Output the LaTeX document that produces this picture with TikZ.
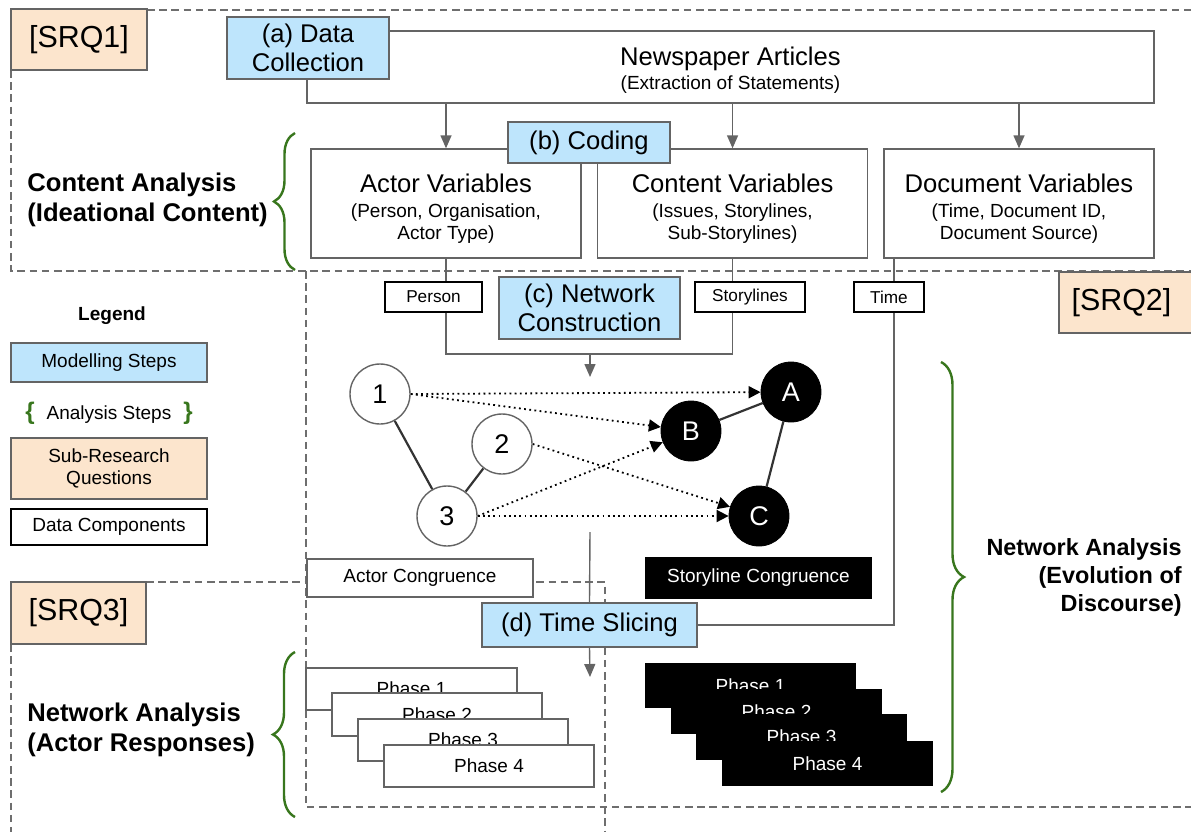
\documentclass[tikz,border=0pt]{standalone}
\usepackage{fontspec}
\setmainfont{Liberation Sans}
\usetikzlibrary{arrows.meta,decorations.pathreplacing}
\definecolor{stepblue}{RGB}{190,229,252}
\definecolor{srqorange}{RGB}{252,229,205}
\definecolor{edgegray}{RGB}{100,100,100}
\definecolor{bracegreen}{RGB}{56,118,29}
\definecolor{dashgray}{RGB}{110,110,110}
\pgfdeclarelayer{background}
\pgfsetlayers{background,main}
\newcommand{\tfont}{\fontsize{12.8}{14.5}\selectfont}
\newcommand{\sfont}{\fontsize{9.5}{11}\selectfont}
% box from pixel corner (x1,y1) to (x2,y2)
\newcommand{\rbox}[6]{\node[#1,minimum width={(#4-#2)*0.5pt},minimum height={(#5-#3)*0.5pt}] (#6) at ({(#2+#4)/2},{(#3+#5)/2})}
\tikzset{
 box/.style={draw=edgegray, line width=0.7pt, inner sep=0pt, align=center, text=black},
 stepbox/.style={box, fill=stepblue, font=\tfont},
 srqbox/.style={box, fill=srqorange, font=\fontsize{15.2}{18}\selectfont},
 databox/.style={box, draw=black, fill=white, font=\fontsize{8.6}{10}\selectfont},
 plainbox/.style={box, fill=white, font=\sfont},
 blackbox/.style={box, draw=black, fill=black, text=white, font=\sfont},
 actornode/.style={circle, draw=edgegray, fill=white, line width=0.7pt, minimum size=30pt, inner sep=0pt, font=\fontsize{13.5}{14}\selectfont},
 storynode/.style={circle, draw=black, fill=black, text=white, minimum size=30pt, inner sep=0pt, font=\fontsize{13.5}{14}\selectfont},
 link/.style={draw=black!80, line width=1.1pt},
 affil/.style={black, line width=0.9pt, dash pattern=on 0.9pt off 1.7pt, -{Triangle[length=6pt,width=6pt]}},
 flow/.style={draw=edgegray, line width=0.7pt},
 flowarrow/.style={flow, -{Triangle[length=6.5pt,width=5.5pt]}},
 region/.style={draw=dashgray, line width=0.6pt, dash pattern=on 3.8pt off 2.3pt},
 curly/.style={draw=bracegreen, line width=1.2pt, decorate, decoration={brace, amplitude=#1}},
 heading/.style={font=\bfseries\fontsize{12.8}{15}\selectfont, inner sep=0pt}
}
\begin{document}
\begin{tikzpicture}[x=0.5pt,y=-0.5pt]
\useasboundingbox (0,0) rectangle (1191,832);

% ---------- top: data collection and coding ----------
\rbox{srqbox}{11}{9}{147}{70}{srq1} {[SRQ1]};
\rbox{plainbox}{307}{31}{1154}{103}{news} {{\tfont\rule{0pt}{12.4pt}Newspaper Articles}\\[1pt](Extraction of Statements)};
\rbox{stepbox}{227}{17}{389}{79}{collect} {(a) Data\\Collection};
\rbox{plainbox}{311}{149}{581}{258}{actorvar} {{\tfont\rule{0pt}{14.4pt}Actor Variables}\\[1.5pt](Person, Organisation,\\Actor Type)};
\rbox{plainbox}{597.5}{149}{867.6}{258}{contentvar} {{\tfont\rule{0pt}{14.4pt}Content Variables}\\[1.5pt](Issues, Storylines,\\Sub-Storylines)};
\rbox{plainbox}{884}{149}{1154}{258}{docvar} {{\tfont\rule{0pt}{14.4pt}Document Variables}\\[1.5pt](Time, Document ID,\\Document Source)};
\rbox{stepbox}{508}{122}{670}{163}{coding} {(b) Coding};
\node[heading, anchor=west, align=left] (contentan) at (27,200) {Content Analysis\\(Ideational Content)};

% ---------- data components ----------
\rbox{databox}{385}{282}{482}{312}{person} {Person};
\rbox{databox}{695}{282}{805}{312}{storylines} {Storylines};
\rbox{databox}{854}{282}{924}{312}{time} {Time};
\rbox{stepbox}{499}{277}{680}{339}{netcon} {(c) Network\\Construction};
\rbox{srqbox}{1059}{272}{1196}{333}{srq2} {\hspace*{-6pt}[SRQ2]};

% ---------- legend ----------
\node[font=\bfseries\sfont] (legend) at (112,316) {Legend};
\rbox{stepbox, font=\sfont}{11}{343}{207}{382}{legmodel} {Modelling Steps};
\node[font=\sfont] (leganalysis) at (109,413) {{\color{bracegreen}\bfseries\fontsize{12}{12}\selectfont\{}\hspace{6pt}Analysis Steps\hspace{6pt}{\color{bracegreen}\bfseries\fontsize{12}{12}\selectfont\}}};
\rbox{srqbox, font=\sfont}{11}{438}{207}{499}{legsrq} {Sub-Research\\Questions};
\rbox{databox, font=\sfont}{11}{509}{207}{545}{legdata} {Data Components};

% ---------- network ----------
\node[actornode] (n1) at (380,394) {1};
\node[actornode] (n2) at (502,444) {2};
\node[actornode] (n3) at (447,516) {3};
\node[storynode] (sB) at (691,431) {B};
\node[storynode] (sA) at (791,392) {A};
\node[storynode] (sC) at (759,516) {C};

\rbox{plainbox}{307}{559}{533}{597}{actcong} {Actor Congruence};
\rbox{blackbox}{646}{558}{871}{598}{storycong} {Storyline Congruence};
\rbox{stepbox}{482}{603}{697}{647}{slicing} {(d) Time Slicing};
\rbox{srqbox}{11}{582}{146}{644}{srq3} {[SRQ3]};

% ---------- phases ----------
\rbox{plainbox}{306}{668}{517}{710}{ap1} {Phase 1};
\rbox{plainbox}{332}{693}{542}{736}{ap2} {Phase 2};
\rbox{plainbox}{358}{719}{568}{761}{ap3} {Phase 3};
\rbox{plainbox}{384}{745}{594}{787}{ap4} {Phase 4};
\rbox{blackbox}{646}{664}{855}{707}{sp1} {Phase 1};
\rbox{blackbox}{672}{690}{881}{733}{sp2} {Phase 2};
\rbox{blackbox}{697}{715}{906}{759}{sp3} {Phase 3};
\rbox{blackbox}{723}{742}{932}{785}{sp4} {Phase 4};

\node[heading, anchor=west, align=left] (actoran) at (27,730) {Network Analysis\\(Actor Responses)};
\node[heading, font=\bfseries\fontsize{11.7}{14}\selectfont, anchor=east, align=right] (discan) at (1182,577) {Network Analysis\\(Evolution of\\Discourse)};

% ---------- braces ----------
\coordinate (b1s) at (295,270); \coordinate (b1e) at (295,133);
\draw[curly=10.5pt] (b1s) -- (b1e);
\coordinate (b2s) at (295,817); \coordinate (b2e) at (295,652);
\draw[curly=11pt] (b2s) -- (b2e);
\coordinate (b3s) at (941,362); \coordinate (b3e) at (941,792);
\draw[curly=11.5pt] (b3s) -- (b3e);

% ---------- free ends ----------
\coordinate (join) at (590,354);
\coordinate (netarrow) at (590,377);
\coordinate (tline) at (894,258);
\coordinate (netout) at (590,532);
\coordinate (phasearrow) at (590,677);

\begin{pgfonlayer}{background}
% dashed regions
\draw[region] (147,10) -- (1191,10);
\draw[region] (11,70) -- (11,271) -- (1191,271);
\draw[region] (306,271) -- (306,807) -- (1191,807);
\draw[region] (146,582) -- (605,582) -- (605,832);
\draw[region] (11,644) -- (11,832);
% flows
\draw[flowarrow] (news.south -| actorvar.north) -- (actorvar.north);
\draw[flowarrow] (news.south -| contentvar.north) -- (contentvar.north);
\draw[flowarrow] (news.south -| docvar.north) -- (docvar.north);
\draw[flow] (actorvar.south) -- (actorvar.south |- join) -- (contentvar.south |- join) -- (contentvar.south);
\draw[flowarrow] (join) -- (netarrow);
\draw[flow] (tline) |- (slicing.east);
\draw[flow] (netout) -- (slicing.north);
\draw[flowarrow] (slicing.south) -- (phasearrow);
% network edges
\draw[link] (n1) -- (n3);
\draw[link] (n2) -- (n3);
\draw[link] (sB) -- (sA);
\draw[link] (sA) -- (sC);
\draw[affil] (n1.east) -- (sA);
\draw[affil] (n1.east) -- (sB);
\draw[affil] (n2.east) -- (sC);
\draw[affil] (n3.east) -- (sB);
\draw[affil] (n3.east) -- (sC);
\end{pgfonlayer}
\end{tikzpicture}
\end{document}
